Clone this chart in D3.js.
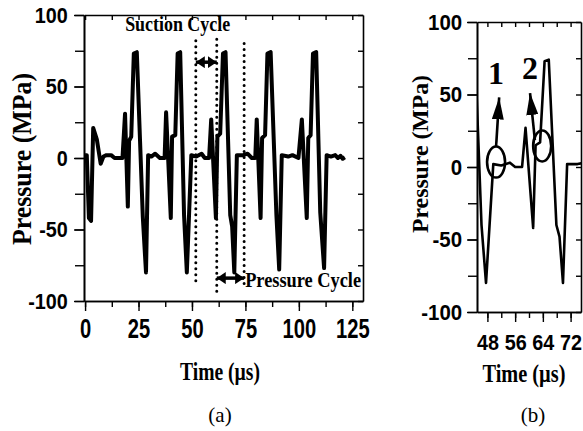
<!DOCTYPE html>
<html>
<head>
<meta charset="utf-8">
<script src="https://cdn.jsdelivr.net/npm/d3@7"></script>
<style>
  body { margin: 0; background: #fff; }
  svg { display: block; }
</style>
</head>
<body>
<div id="chart"></div>
<script>
// waveform (time in us, pressure in MPa)
var timeUs = [0, 0.8, 1.8, 2.8, 3.8, 5.5, 7.3, 8.6, 10, 12.2, 13.8, 17.5,
  18.7, 20, 20.6, 21.6, 22.8, 24.2, 27, 28.5, 29.5, 31, 32.8, 35, 37.2,
  37.9, 40.1, 40.7, 42.2, 43.3, 44.5, 46.3, 47.6, 49.7, 52, 54.5, 56, 58,
  59, 61.2, 61.9, 63.2, 64.5, 65.7, 67.9, 68.8, 69.8, 71, 74, 76, 78, 79.6,
  80.3, 82.1, 82.8, 84.2, 85.3, 86.8, 89.5, 90.8, 92, 95, 97, 99.8,
  101.4, 103.7, 104.4, 105.5, 106.6, 108.1, 110, 111.8, 113, 115, 117, 118.3, 119.5, 120.5, 121.5];
var pressureMPa = [2, 2, -42, -44, 21, 13, -4, 1, 2, 2, 0, 0,
  31, -34, 12, 15, 73, 74, -41, -80, 2, 1, 3, 0, 0,
  32, -42, 15, 16, 73, 74, -40, -80, 2, 1, 3, 0, 0,
  27, -42, 15, 17, 73, 74, -40, -48, -80, 2, 2, 3, 0, 0,
  27, -42, 14, 16, 73, 74, -40, -78, 2, 1, 2, 0,
  27, -42, 14, 16, 73, 74, -38, -77, 2, 1, 2, 0, 1.5, -0.5, 0.5];

var xTicksA = [0, 25, 50, 75, 100, 125];
var xTicksB = [48, 56, 64, 72];
var yTicks = [-100, -50, 0, 50, 100];

// cycle markers in panel (a)
var cycleLines = [51.8, 61.6, 74.4];
var cycleTop = [82, 83, 80];
var cycleBottom = [-90, -96, -92];

// circled points in panel (b)
var markLabels = ["1", "2"];
var markTime = [50.5, 63.8];
var markPressure = [3.4, 14.5];
var arrowFrom = [[50.5, 14], [61.7, 18.6]];
var arrowTo = [[51.4, 48], [60.3, 51]];
var labelPos = [[50.5, 57], [60.3, 60.7]];

var width = 583, height = 431;
var sans = "'Liberation Sans', Arial, sans-serif";
var serif = "'Liberation Serif', 'Times New Roman', serif";

var svg = d3.select("#chart").append("svg")
  .attr("width", width)
  .attr("height", height);

var defs = svg.append("defs");
defs.append("marker")
  .attr("id", "head")
  .attr("markerUnits", "userSpaceOnUse")
  .attr("viewBox", "0 -6 9 12")
  .attr("refX", 9).attr("refY", 0)
  .attr("markerWidth", 9).attr("markerHeight", 12)
  .attr("orient", "auto-start-reverse")
  .append("path").attr("d", "M0,-6L9,0L0,6Z").attr("fill", "#000");
defs.append("marker")
  .attr("id", "headB")
  .attr("markerUnits", "userSpaceOnUse")
  .attr("viewBox", "0 -6 22 12")
  .attr("refX", 22).attr("refY", 0)
  .attr("markerWidth", 22).attr("markerHeight", 12)
  .attr("orient", "auto")
  .append("path").attr("d", "M0,-6L22,0L0,6Z").attr("fill", "#000");

function plain(d) { return String(d); }

// draws the frame, ticks and labels of one panel
function frame(g, x, y, o) {
  var minorX = d3.range(o.xMinorStart, x.domain()[1], o.xMinorStep);
  var minorY = d3.range(-100, 101, 25);
  var b = y.range()[0], t = y.range()[1], l = x.range()[0], r = x.range()[1];

  g.append("g").attr("transform", "translate(0," + b + ")")
    .call(d3.axisBottom(x).tickValues(minorX).tickSize(6).tickSizeOuter(0).tickFormat(""));
  g.append("g").attr("transform", "translate(0," + b + ")")
    .call(d3.axisBottom(x).tickValues(o.xTicks).tickSize(10).tickSizeOuter(0).tickFormat(plain))
    .selectAll("text")
      .attr("y", o.xLabelY).attr("dy", null)
      .attr("transform", "scale(" + o.xScale + ",1)")
      .style("font", "bold " + o.xFont + "px " + sans);
  g.append("g").attr("transform", "translate(0," + t + ")")
    .call(d3.axisTop(x).tickValues(minorX).tickSize(-5).tickSizeOuter(0).tickFormat(""));

  g.append("g").attr("transform", "translate(" + l + ",0)")
    .call(d3.axisLeft(y).tickValues(minorY).tickSize(9).tickSizeOuter(0).tickFormat(""));
  g.append("g").attr("transform", "translate(" + l + ",0)")
    .call(d3.axisLeft(y).tickValues(yTicks).tickSize(10).tickSizeOuter(0).tickFormat(plain))
    .selectAll("text")
      .attr("x", o.yLabelX)
      .attr("transform", "scale(" + o.yScale + ",1)")
      .style("font", "bold 22px " + sans);
  g.append("g").attr("transform", "translate(" + r + ",0)")
    .call(d3.axisRight(y).tickValues(minorY).tickSize(-5).tickSizeOuter(0).tickFormat(""));

  g.selectAll(".domain").attr("stroke-width", 1.6);
  g.selectAll(".tick line").attr("stroke-width", 1.4);
  g.selectAll(".tick text").attr("fill", "#000");
}

// ---------- panel (a) ----------
var xA = d3.scaleLinear().domain([-0.5, 130]).range([84, 363]);
var yA = d3.scaleLinear().domain([-100, 100]).range([301, 15]);
var gA = svg.append("g");

var line = function(x, y) {
  return d3.line().x(function(d) { return x(d[0]); }).y(function(d) { return y(d[1]); });
};
var pts = timeUs.map(function(t, i) { return [t, pressureMPa[i]]; });

gA.append("path")
  .datum(pts)
  .attr("d", line(xA, yA))
  .attr("fill", "none")
  .attr("stroke", "#000")
  .attr("stroke-width", 4)
  .attr("stroke-linejoin", "round");

gA.selectAll(".cyc")
  .data(cycleLines)
  .enter().append("line")
  .attr("x1", function(d) { return xA(d); })
  .attr("x2", function(d) { return xA(d); })
  .attr("y1", function(d, i) { return yA(cycleTop[i]); })
  .attr("y2", function(d, i) { return yA(cycleBottom[i]); })
  .attr("stroke", "#000")
  .attr("stroke-width", 3)
  .attr("stroke-linecap", "round")
  .attr("stroke-dasharray", "0,6");

gA.append("line")
  .attr("x1", xA(cycleLines[0])).attr("x2", xA(cycleLines[1]))
  .attr("y1", yA(67)).attr("y2", yA(67))
  .attr("stroke", "#000").attr("stroke-width", 3.5)
  .attr("marker-start", "url(#head)").attr("marker-end", "url(#head)");
gA.append("line")
  .attr("x1", xA(cycleLines[1])).attr("x2", xA(cycleLines[2]))
  .attr("y1", yA(-84)).attr("y2", yA(-84))
  .attr("stroke", "#000").attr("stroke-width", 3.5)
  .attr("marker-start", "url(#head)").attr("marker-end", "url(#head)");

gA.append("text")
  .attr("x", xA(43.3)).attr("y", yA(88.8))
  .attr("text-anchor", "middle")
  .attr("textLength", 105).attr("lengthAdjust", "spacingAndGlyphs")
  .style("font", "bold 21px " + serif)
  .text("Suction Cycle");
gA.append("text")
  .attr("x", xA(cycleLines[2]) + 1).attr("y", yA(-90))
  .attr("textLength", 116).attr("lengthAdjust", "spacingAndGlyphs")
  .style("font", "bold 21px " + serif)
  .text("Pressure Cycle");

frame(gA, xA, yA, {
  xTicks: xTicksA, xMinorStart: 0, xMinorStep: 12.5,
  xLabelY: 37, xFont: 28, xScale: 0.72, yLabelX: -18, yScale: 0.9
});

gA.append("text")
  .attr("transform", "translate(31,159) rotate(-90)")
  .attr("text-anchor", "middle")
  .attr("textLength", 172).attr("lengthAdjust", "spacingAndGlyphs")
  .style("font", "bold 28px " + serif)
  .text("Pressure (MPa)");
gA.append("text")
  .attr("x", 220).attr("y", 380)
  .attr("text-anchor", "middle")
  .attr("textLength", 80).attr("lengthAdjust", "spacingAndGlyphs")
  .style("font", "bold 25px " + serif)
  .text("Time (\u00b5s)");
gA.append("text")
  .attr("x", 220).attr("y", 422)
  .attr("text-anchor", "middle")
  .style("font", "21px " + serif)
  .text("(a)");

// ---------- panel (b) ----------
var xB = d3.scaleLinear().domain([45, 75]).range([477, 581]);
var yB = d3.scaleLinear().domain([-100, 100]).range([312, 22]);
var gB = svg.append("g");

defs.append("clipPath").attr("id", "clipB")
  .append("rect").attr("x", 477).attr("y", 22).attr("width", 104).attr("height", 290);

gB.append("path")
  .datum(pts)
  .attr("d", line(xB, yB))
  .attr("clip-path", "url(#clipB)")
  .attr("fill", "none")
  .attr("stroke", "#000")
  .attr("stroke-width", 2.6)
  .attr("stroke-linejoin", "round");

gB.selectAll(".mark")
  .data(markLabels)
  .enter().append("ellipse")
  .attr("cx", function(d, i) { return xB(markTime[i]); })
  .attr("cy", function(d, i) { return yB(markPressure[i]); })
  .attr("rx", 9).attr("ry", 15.5)
  .attr("fill", "none").attr("stroke", "#000").attr("stroke-width", 2.6);

gB.selectAll(".arr")
  .data(markLabels)
  .enter().append("line")
  .attr("x1", function(d, i) { return xB(arrowFrom[i][0]); })
  .attr("y1", function(d, i) { return yB(arrowFrom[i][1]); })
  .attr("x2", function(d, i) { return xB(arrowTo[i][0]); })
  .attr("y2", function(d, i) { return yB(arrowTo[i][1]); })
  .attr("stroke", "#000").attr("stroke-width", 2.6)
  .attr("marker-end", "url(#headB)");

gB.selectAll(".lab")
  .data(markLabels)
  .enter().append("text")
  .attr("x", function(d, i) { return xB(labelPos[i][0]); })
  .attr("y", function(d, i) { return yB(labelPos[i][1]); })
  .attr("text-anchor", "middle")
  .style("font", "bold 32px " + serif)
  .text(function(d) { return d; });

frame(gB, xB, yB, {
  xTicks: xTicksB, xMinorStart: 48, xMinorStep: 4,
  xLabelY: 38, xFont: 22, xScale: 0.9, yLabelX: -16, yScale: 0.93
});

gB.append("text")
  .attr("transform", "translate(428,154) rotate(-90)")
  .attr("text-anchor", "middle")
  .attr("textLength", 158).attr("lengthAdjust", "spacingAndGlyphs")
  .style("font", "bold 23px " + serif)
  .text("Pressure (MPa)");
gB.append("text")
  .attr("x", 524).attr("y", 382)
  .attr("text-anchor", "middle")
  .attr("textLength", 83).attr("lengthAdjust", "spacingAndGlyphs")
  .style("font", "bold 26px " + serif)
  .text("Time (\u00b5s)");
gB.append("text")
  .attr("x", 533).attr("y", 422)
  .attr("text-anchor", "middle")
  .style("font", "21px " + serif)
  .text("(b)");
</script>
</body>
</html>
